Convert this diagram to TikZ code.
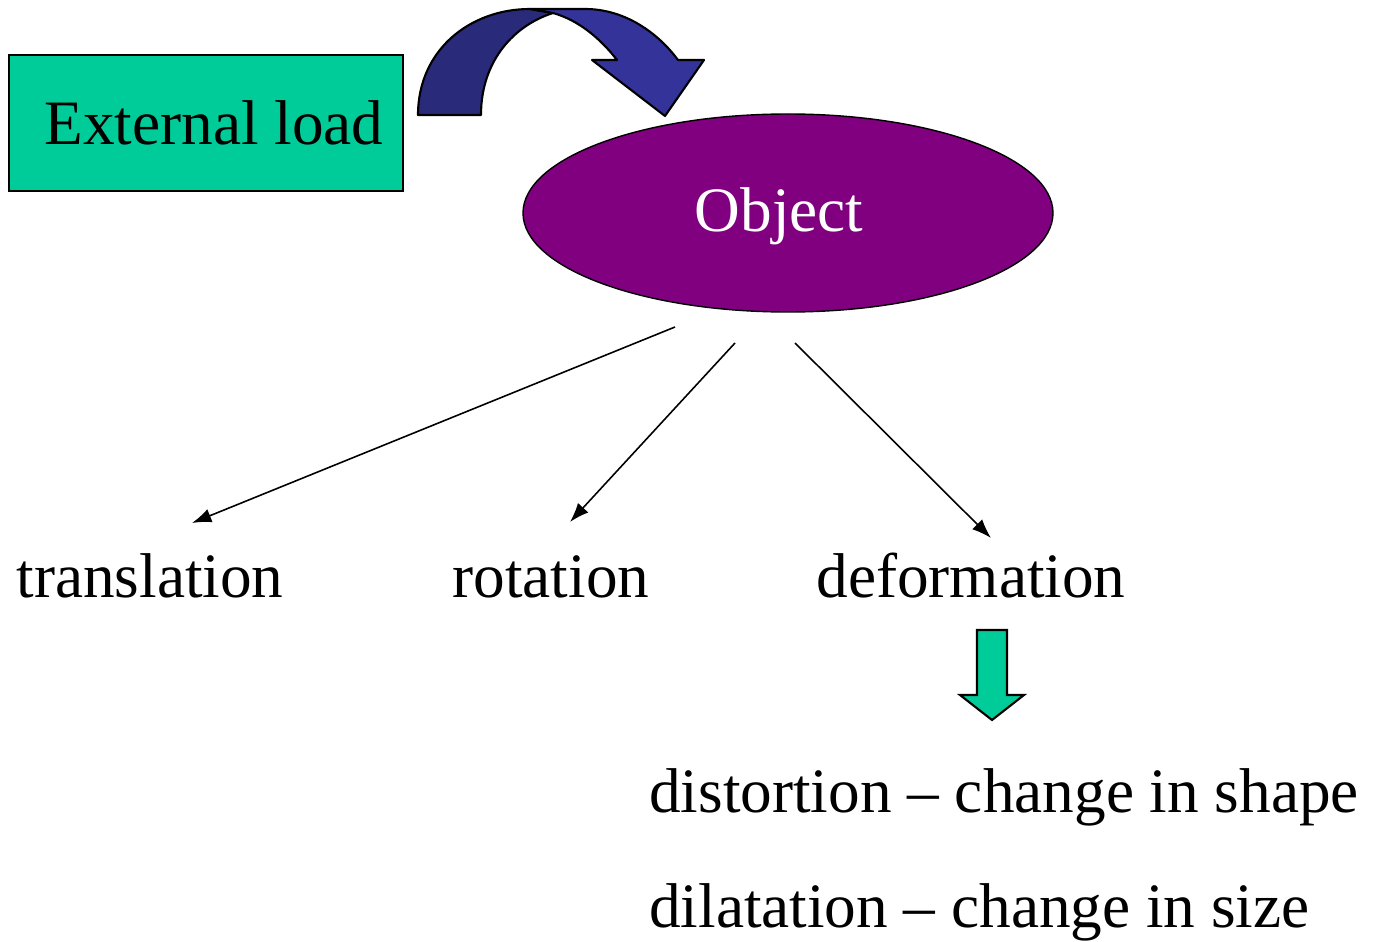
\documentclass[tikz,border=0pt]{standalone}
\usepackage{fontspec}
\setmainfont{Liberation Serif}
\usepackage{tikz}
\usetikzlibrary{arrows.meta,shapes.geometric}
\definecolor{loadgreen}{RGB}{0,204,153}
\definecolor{objpurple}{RGB}{128,0,128}
\definecolor{bendblue}{RGB}{51,51,153}
\definecolor{benddark}{RGB}{42,42,122}

\begin{document}
\begin{tikzpicture}[x=0.02cm,y=-0.02cm,
  every node/.style={font=\fontsize{36}{40}\selectfont},
  outcome/.style={anchor=base}]
\useasboundingbox (0,0) rectangle (1373,942);
% load box and object
\node[draw, fill=loadgreen, line width=1pt, minimum width=394*0.02cm, minimum height=136*0.02cm] (load) at (206,123){};
\node[anchor=base] (loadtxt) at (214,145){External load};
\node[ellipse, draw, fill=objpurple, line width=0.8pt, minimum width=530*0.02cm, minimum height=198*0.02cm] (obj) at (788,213){};
\node[anchor=base, text=white] (objtxt) at (779,232){Object};
% bent arrow
\draw[fill=benddark, line width=1.2pt, line join=round] (418,115) .. controls (418,50) and (470,9) .. (530,9) -- (553,13) .. controls (515,25) and (481,60) .. (481,115) -- cycle;
\draw[fill=bendblue, line width=1.2pt, line join=round] (530,9) -- (585,9) .. controls (625,9) and (658,33) .. (678,60) -- (704,60) -- (665,116) -- (592,60) -- (617,60) .. controls (600,38) and (578,20) .. (553,13) -- cycle;
% outcomes
\node[outcome] (trans) at (150,597){translation};
\node[outcome] (rot) at (551,597){rotation};
\node[outcome] (deform) at (971,597){deformation};
\coordinate (s1) at (675,327);
\coordinate (s2) at (735,343);
\coordinate (s3) at (795,343);
\coordinate (e1) at (192,523);
\coordinate (e2) at (570,522);
\coordinate (e3) at (991,538);
\foreach \from/\to in {s1/e1,s2/e2,s3/e3}
\draw[-{Latex[length=11pt,width=8pt]}, line width=0.9pt] (\from) -- (\to);
% down arrow
\draw[fill=loadgreen, line width=1.2pt] (977,630) -- (1007,630) -- (1007,695) -- (1024,695) -- (992,720) -- (960,695) -- (977,695) -- cycle;
\node[anchor=base west] (distort) at (643,812){distortion -- change in shape};
\node[anchor=base west] (dilat) at (643,927){dilatation -- change in size};
\end{tikzpicture}
\end{document}
